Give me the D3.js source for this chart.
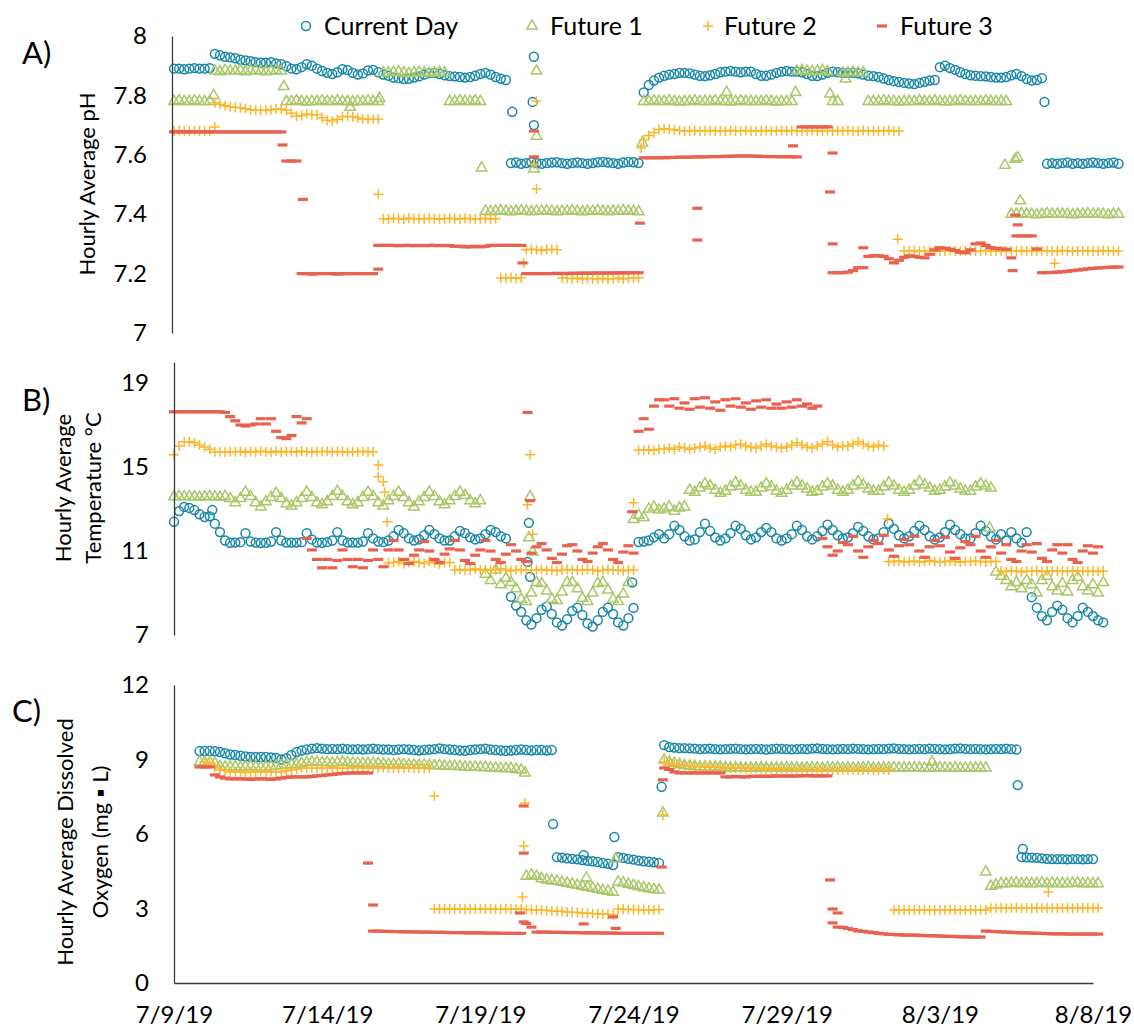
<!DOCTYPE html>
<html>
<head>
<meta charset="utf-8">
<script src="https://cdn.jsdelivr.net/npm/d3@7"></script>
<style>
body { margin: 0; background: #fff; }
text { font-family: Lato, "Open Sans", sans-serif; fill: #000; }
</style>
</head>
<body>
<svg width="1134" height="1028"></svg>
<script>
var _ = null;
// readings every 4 hours starting 7/9/19 00:00, one row per day
var startDay = new Date(2019, 6, 9);
var stepHours = 4;
var dateTicks = ["2019-07-09", "2019-07-14", "2019-07-19", "2019-07-24", "2019-07-29", "2019-08-03", "2019-08-08"];
var seriesNames = ["Current Day", "Future 1", "Future 2", "Future 3"];

// ---- A) pH ----
var phTicks = [7, 7.2, 7.4, 7.6, 7.8, 8];
var phCur = [
7.89,7.89,7.888,7.89,7.892,7.89,
7.89,7.892,7.94,7.935,7.93,7.928,
7.925,7.92,7.918,7.915,7.912,7.91,
7.91,7.912,7.908,7.905,7.898,7.89,
7.888,7.895,7.905,7.9,7.89,7.882,
7.876,7.872,7.878,7.888,7.885,7.876,
7.87,7.874,7.884,7.886,7.878,7.87,
7.866,7.86,7.858,7.855,7.856,7.86,
7.864,7.87,7.875,7.876,7.872,7.868,
7.865,7.864,7.862,7.86,7.862,7.866,
7.872,7.876,7.87,7.862,7.856,7.852,
7.572,7.574,7.57,7.572,7.575,7.572,
7.57,7.572,7.574,7.575,7.572,7.57,
7.572,7.574,7.572,7.57,7.572,7.575,
7.576,7.574,7.572,7.57,7.574,7.576,
7.575,7.572,7.81,7.835,7.85,7.86,
7.866,7.87,7.872,7.876,7.876,7.874,
7.87,7.866,7.865,7.868,7.872,7.878,
7.88,7.882,7.88,7.878,7.88,7.88,
7.872,7.866,7.866,7.87,7.876,7.88,
7.882,7.88,7.88,7.878,7.872,7.866,
7.865,7.87,7.876,7.88,7.878,7.876,
7.876,7.876,7.874,7.87,7.866,7.865,
7.862,7.857,7.852,7.848,7.845,7.842,
7.84,7.838,7.842,7.846,7.85,7.852,
7.895,7.9,7.892,7.886,7.878,7.872,
7.868,7.866,7.865,7.864,7.862,7.86,
7.86,7.862,7.868,7.872,7.865,7.855,
7.85,7.852,7.858,7.57,7.572,7.57,
7.572,7.574,7.57,7.572,7.57,7.572,
7.574,7.572,7.57,7.572,7.574,7.57];
var phF1 = [
7.78,7.782,7.78,7.78,7.782,7.78,
7.78,7.78,7.882,7.88,7.884,7.882,
7.882,7.884,7.88,7.882,7.884,7.882,
7.88,7.882,7.884,7.882,7.78,7.78,
7.782,7.78,7.778,7.78,7.78,7.782,
7.78,7.78,7.782,7.78,7.78,7.778,
7.78,7.78,7.782,7.78,7.78,7.876,
7.876,7.878,7.88,7.876,7.874,7.876,
7.878,7.876,7.874,7.876,7.878,7.876,
7.78,7.78,7.782,7.78,7.78,7.782,
7.78,7.41,7.408,7.41,7.412,7.41,
7.408,7.41,7.412,7.41,7.408,7.41,
7.41,7.412,7.41,7.408,7.41,7.41,
7.412,7.41,7.408,7.41,7.41,7.412,
7.41,7.408,7.41,7.41,7.412,7.41,
7.41,7.408,7.78,7.78,7.782,7.78,
7.78,7.782,7.78,7.778,7.78,7.78,
7.782,7.78,7.78,7.78,7.782,7.78,
7.78,7.778,7.78,7.782,7.78,7.78,
7.78,7.78,7.782,7.78,7.778,7.78,
7.78,7.78,7.882,7.884,7.882,7.88,
7.882,7.884,7.88,7.78,7.78,7.876,
7.876,7.878,7.876,7.876,7.78,7.78,
7.78,7.782,7.78,7.78,7.778,7.78,
7.78,7.78,7.782,7.78,7.78,7.782,
7.78,7.778,7.78,7.78,7.782,7.78,
7.78,7.78,7.78,7.782,7.78,7.78,
7.78,7.78,7.40,7.40,7.402,7.40,
7.40,7.398,7.40,7.402,7.40,7.40,
7.40,7.40,7.398,7.40,7.40,7.402,
7.40,7.40,7.40,7.398,7.40,7.40];
var phF2 = [
7.68,7.682,7.68,7.68,7.682,7.68,
7.68,7.68,7.775,7.77,7.765,7.762,
7.76,7.758,7.755,7.752,7.75,7.75,
7.75,7.752,7.754,7.754,7.75,7.74,
7.73,7.732,7.737,7.735,7.735,7.725,
7.716,7.714,7.72,7.728,7.73,7.728,
7.725,7.72,7.72,7.72,7.72,7.385,
7.384,7.386,7.385,7.383,7.386,7.385,
7.385,7.384,7.386,7.385,7.383,7.385,
7.386,7.385,7.384,7.386,7.385,7.384,
7.385,7.386,7.384,7.385,7.185,7.185,
7.186,7.184,7.185,7.28,7.282,7.28,
7.278,7.28,7.282,7.28,7.185,7.184,
7.183,7.185,7.182,7.184,7.183,7.182,
7.184,7.182,7.183,7.185,7.182,7.184,
7.185,7.186,7.65,7.665,7.675,7.685,
7.688,7.686,7.684,7.682,7.68,7.68,
7.682,7.68,7.68,7.682,7.68,7.68,
7.68,7.682,7.68,7.68,7.682,7.68,
7.68,7.68,7.682,7.68,7.68,7.682,
7.68,7.682,7.68,7.68,7.68,7.682,
7.68,7.68,7.682,7.68,7.682,7.68,
7.682,7.68,7.68,7.682,7.68,7.68,
7.68,7.68,7.682,7.68,7.68,7.276,
7.276,7.278,7.275,7.276,7.277,7.276,
7.275,7.276,7.278,7.276,7.275,7.277,
7.276,7.275,7.276,7.278,7.276,7.275,
7.277,7.276,7.275,7.276,7.278,7.276,
7.276,7.275,7.277,7.276,7.275,7.276,
7.278,7.276,7.275,7.276,7.277,7.276,
7.275,7.276,7.278,7.276,7.275,7.276];
var phF3 = [
7.677,7.677,7.677,7.677,7.677,7.677,
7.677,7.677,7.677,7.677,7.677,7.677,
7.677,7.677,7.677,7.677,7.677,7.677,
7.677,7.677,7.677,7.677,7.579,7.579,
7.579,7.2,7.2,7.198,7.2,7.2,
7.2,7.2,7.198,7.2,7.2,7.2,
7.2,7.2,7.2,7.2,7.295,7.295,
7.295,7.295,7.294,7.295,7.295,7.294,
7.295,7.294,7.295,7.295,7.294,7.295,
7.294,7.292,7.292,7.29,7.29,7.292,
7.29,7.292,7.295,7.295,7.295,7.295,
7.295,7.295,7.295,7.2,7.2,7.2,
7.2,7.2,7.2,7.201,7.2,7.201,
7.201,7.201,7.202,7.201,7.202,7.202,
7.202,7.202,7.202,7.203,7.202,7.203,
7.203,7.203,7.59,7.59,7.59,7.59,
7.59,7.591,7.591,7.592,7.592,7.592,
7.593,7.593,7.593,7.594,7.594,7.594,
7.595,7.595,7.596,7.596,7.596,7.596,
7.595,7.595,7.594,7.594,7.594,7.593,
7.594,7.593,7.593,7.694,7.694,7.694,
7.694,7.694,7.694,7.203,7.203,7.203,
7.205,7.21,7.22,7.22,7.258,7.26,
7.26,7.258,7.25,7.236,7.245,7.255,
7.26,7.258,7.255,7.253,7.265,7.28,
7.287,7.285,7.282,7.278,7.272,7.27,
7.28,7.3,7.303,7.295,7.287,7.285,
7.283,7.282,7.253,7.327,7.327,7.327,
7.327,7.283,7.203,7.203,7.204,7.205,
7.206,7.208,7.21,7.212,7.214,7.216,
7.218,7.219,7.22,7.221,7.222,7.222];
// stray readings: [hour since start, value]
var phCurOut = [[265,7.745],[282,7.93],[281,7.778],[282,7.70],[682,7.778]];
var phF1Out = [[31,7.80],[86,7.83],[138,7.76],[161,7.79],[241,7.556],[284,7.882],[284,7.663],[282,7.552],[367,7.64],[433,7.81],[487,7.81],[514,7.805],[526,7.855],[651,7.565],[659,7.585],[661,7.59],[663,7.445]];
var phF2Out = [[32,7.694],[160,7.467],[274,7.236],[284,7.78],[282,7.569],[284,7.485],[366,7.623],[567,7.316],[690,7.235]];
var phF3Out = [[85,7.633],[101,7.45],[160,7.215],[273,7.236],[282,7.68],[282,7.593],[365,7.37],[410,7.42],[410,7.313],[485,7.63],[516,7.606],[514,7.475],[516,7.30],[540,7.287],[657,7.21],[659,7.397],[661,7.364]];

// ---- B) temperature ----
var tTicks = [7, 11, 15, 19];
var tCur = [
12.39,12.9,13.1,13.05,12.95,12.75,
12.62,12.65,12.3,11.9,11.5,11.39,
11.4,11.42,11.85,11.45,11.4,11.38,
11.39,11.45,11.9,11.5,11.4,11.4,
11.4,11.42,11.85,11.55,11.4,11.39,
11.42,11.5,11.9,11.5,11.4,11.4,
11.4,11.45,11.85,11.6,11.45,11.42,
11.5,11.7,12.0,11.85,11.6,11.5,
11.55,11.75,12.0,11.8,11.6,11.5,
11.5,11.7,11.95,11.85,11.65,11.55,
11.6,11.8,12.0,11.9,11.7,11.6,
8.82,8.4,8.1,7.7,7.5,7.8,
8.2,8.35,8.0,7.6,7.45,7.75,
8.15,8.3,7.95,7.55,7.4,7.7,
8.1,8.3,8.0,7.6,7.45,7.8,
8.29,11.43,11.45,11.5,11.65,11.8,
11.6,11.8,12.2,12.0,11.7,11.5,
11.55,11.9,12.3,11.95,11.65,11.5,
11.6,11.85,12.2,12.05,11.75,11.55,
11.65,11.9,12.1,11.9,11.6,11.5,
11.6,11.8,12.2,12.0,11.7,11.55,
11.7,11.95,12.25,12.0,11.75,11.6,
11.65,11.85,12.15,11.95,11.7,11.55,
11.6,11.9,12.3,12.05,11.75,11.6,
11.7,11.95,12.2,12.0,11.7,11.55,
11.65,11.9,12.25,12.0,11.8,11.6,
11.6,11.85,12.2,11.95,11.7,11.55,
11.8,11.5,11.9,11.6,11.4,11.9,
8.8,8.3,7.9,7.7,8.1,8.4,
8.2,7.8,7.6,7.9,8.3,8.1,
7.9,7.7,7.6,_,_,_];
var tF1 = [
13.58,13.6,13.58,13.6,13.58,13.56,
13.58,13.6,13.58,13.56,13.6,13.5,
13.3,13.5,13.8,13.6,13.3,13.1,
13.35,13.55,13.75,13.5,13.25,13.15,
13.3,13.5,13.8,13.55,13.3,13.2,
13.35,13.6,13.85,13.6,13.35,13.2,
13.3,13.55,13.8,13.6,13.3,13.15,
13.4,13.6,13.8,13.55,13.3,13.1,
13.35,13.55,13.8,13.6,13.35,13.2,
13.4,13.6,13.8,13.65,13.4,13.25,
13.4,9.9,9.6,10.1,9.4,9.7,
9.5,9.2,8.7,8.6,9.0,9.5,
9.45,9.1,8.7,8.65,9.05,9.5,
9.5,9.2,8.75,8.6,9.0,9.45,
9.5,9.15,8.7,8.6,8.95,9.5,
12.5,12.7,12.6,13.0,13.1,12.95,
13.0,13.1,12.9,13.05,13.1,13.9,
13.8,14.0,14.2,14.1,13.9,13.75,
13.85,14.05,14.25,14.1,13.9,13.8,
13.8,14.0,14.2,14.05,13.85,13.75,
13.9,14.1,14.25,14.1,13.95,13.8,
13.85,14.05,14.2,14.1,13.9,13.8,
13.9,14.1,14.3,14.15,13.95,13.85,
13.85,14.05,14.25,14.1,13.9,13.8,
13.9,14.1,14.3,14.15,14.0,13.85,
13.9,14.05,14.25,14.1,13.95,13.85,
13.85,14.05,14.2,14.1,14.0,10.0,
9.8,9.6,9.3,9.5,9.2,9.6,
9.4,9.0,9.6,9.8,9.3,9.1,
9.45,9.05,9.6,9.75,9.3,9.1,
9.4,9.0,9.5,_,_,_];
var tF2 = [
15.58,16.0,16.2,16.2,16.15,16.05,
15.95,15.85,15.72,15.73,15.72,15.73,
15.73,15.75,15.7,15.74,15.72,15.76,
15.73,15.7,15.75,15.72,15.74,15.73,
15.72,15.76,15.73,15.7,15.74,15.73,
15.75,15.72,15.73,15.74,15.7,15.73,
15.73,15.75,15.72,15.73,15.1,14.3,
10.43,10.45,10.5,10.4,10.45,10.5,
10.45,10.4,10.5,10.45,10.38,10.45,
10.45,10.1,10.12,10.08,10.1,10.15,
10.1,10.12,10.08,10.1,10.15,10.1,
10.05,10.1,10.12,10.08,10.1,10.1,
10.12,10.08,10.1,10.05,10.1,10.12,
10.1,10.1,10.08,10.12,10.1,10.05,
10.08,10.12,10.1,10.1,10.06,10.1,
10.1,15.8,15.8,15.82,15.8,15.85,
15.85,15.9,15.85,15.95,15.9,15.85,
15.9,15.95,16.0,15.9,15.85,15.95,
16.0,15.95,16.05,16.1,16.0,15.95,
15.9,16.0,16.1,16.0,15.95,15.9,
15.95,16.05,16.15,16.05,15.95,15.9,
16.0,16.1,16.2,16.05,15.95,16.0,
16.0,16.1,16.2,16.1,16.0,15.95,
16.05,16.0,10.5,10.5,10.52,10.48,
10.5,10.52,10.48,10.5,10.55,10.5,
10.48,10.5,10.52,10.5,10.46,10.5,
10.5,10.52,10.5,10.48,10.5,10.5,
10.05,10.02,10.06,10.05,10.0,10.05,
10.04,10.06,10.02,10.05,10.05,10.03,
10.05,10.02,10.06,10.04,10.05,10.02,
10.05,10.02,10.05,_,_,_];
var tF3 = [
17.63,17.63,17.63,17.63,17.63,17.63,
17.63,17.63,17.63,17.63,17.6,17.4,
17.2,17.0,16.95,17.0,17.05,17.3,
17.05,17.3,16.7,16.4,16.35,16.5,
17.4,17.1,11.6,11.05,10.6,10.2,
10.6,10.2,10.55,11.05,10.6,10.25,
10.6,10.2,10.55,11.05,10.6,10.25,
11.05,11.5,11.05,10.6,10.4,10.8,
11.05,11.45,11.0,10.6,10.45,10.85,
11.1,11.5,11.05,10.55,10.4,10.8,
11.05,11.5,11.0,10.6,10.45,10.85,
11.3,11.0,10.6,10.5,10.9,11.2,
11.35,11.05,10.65,10.45,10.85,11.25,
11.3,11.0,10.6,10.5,10.9,11.2,
11.35,11.05,10.6,10.45,10.95,11.25,
10.9,16.7,17.3,16.8,17.9,18.2,
18.2,17.9,18.25,17.8,18.05,17.75,
18.25,17.85,18.3,17.8,18.1,17.7,
18.2,17.9,18.25,17.85,18.05,17.75,
18.15,17.85,18.2,17.8,18.0,17.8,
18.1,17.85,18.2,17.9,18.0,17.8,
17.9,11.6,11.2,10.8,11.0,11.4,
11.3,11.7,11.0,10.7,11.2,11.5,
11.35,11.75,11.05,10.75,11.25,11.55,
11.3,11.7,11.0,10.7,11.2,11.5,
11.25,11.65,10.95,10.65,11.15,11.45,
11.3,11.7,11.0,10.7,11.2,11.5,
10.9,11.3,10.6,10.5,11.0,11.3,
10.95,11.35,10.65,10.5,11.05,11.3,
10.9,11.3,10.6,10.45,11.0,11.25,
10.9,11.2,_,_,_,_];
var tCurOut = [[30,12.95],[278,12.34],[277,10.48],[279,9.77],[359,9.5]];
var tF1Out = [[279,13.58],[278,11.63],[281,10.96],[639,12.1]];
var tF2Out = [[160,14.55],[165,13.8],[167,12.39],[279,15.58],[277,13.2],[281,11.8],[360,13.3],[559,12.53]];
var tF3Out = [[277,17.6],[279,13.4],[359,12.87],[104,17.3]];

// ---- C) dissolved oxygen ----
var doTicks = [0, 3, 6, 9, 12];
var doCur = [
_,_,_,_,_,9.34,
9.34,9.34,9.33,9.3,9.25,9.2,
9.18,9.15,9.12,9.1,9.1,9.1,
9.1,9.08,9.06,9.0,9.05,9.18,
9.3,9.36,9.4,9.44,9.46,9.44,
9.42,9.43,9.42,9.44,9.42,9.41,
9.42,9.4,9.42,9.44,9.42,9.4,
9.4,9.38,9.4,9.42,9.4,9.38,
9.36,9.38,9.4,9.42,9.45,9.42,
9.4,9.38,9.36,9.35,9.38,9.4,
9.42,9.44,9.4,9.38,9.36,9.35,
9.36,9.38,9.4,9.38,9.36,9.38,
9.38,9.36,9.38,5.07,5.05,5.02,
5.0,4.98,4.95,4.92,4.9,4.87,
4.83,4.8,4.75,5.07,5.04,5.0,
4.97,4.93,4.9,4.88,4.86,4.83,
9.58,9.5,9.48,9.46,9.46,9.45,
9.44,9.42,9.43,9.44,9.42,9.41,
9.42,9.43,9.44,9.42,9.41,9.42,
9.43,9.42,9.4,9.42,9.44,9.43,
9.42,9.41,9.42,9.43,9.42,9.44,
9.45,9.43,9.42,9.41,9.42,9.43,
9.42,9.44,9.43,9.42,9.41,9.42,
9.43,9.42,9.44,9.45,9.43,9.42,
9.41,9.42,9.43,9.42,9.44,9.43,
9.42,9.41,9.42,9.44,9.45,9.43,
9.42,9.43,9.42,9.41,9.42,9.43,
9.42,9.44,9.42,9.4,5.07,5.06,
5.05,5.04,5.02,5.0,4.99,4.99,
4.99,4.98,4.99,4.99,4.98,4.99,
4.99,_,_,_,_,_];
var doF1 = [
_,_,_,_,_,8.9,
8.9,8.9,8.85,8.72,8.7,8.7,
8.7,8.68,8.7,8.72,8.7,8.68,
8.7,8.72,8.74,8.76,8.78,8.8,
8.8,8.85,8.88,8.9,8.9,8.88,
8.88,8.86,8.88,8.9,8.88,8.86,
8.86,8.85,8.84,8.85,8.84,8.82,
8.8,8.8,8.82,8.8,8.78,8.78,
8.77,8.78,8.76,8.75,8.76,8.74,
8.73,8.72,8.72,8.7,8.7,8.69,
8.68,8.68,8.66,8.66,8.64,8.64,
8.64,8.6,8.58,4.3,4.35,4.3,
4.2,4.15,4.12,4.1,4.06,4.02,
3.98,3.94,3.9,3.86,3.82,3.78,
3.74,3.7,3.66,4.07,4.03,3.98,
3.93,3.88,3.84,3.8,3.77,3.75,
8.98,8.9,8.85,8.8,8.76,8.74,
8.72,8.7,8.7,8.7,8.7,8.7,
8.68,8.66,8.67,8.66,8.65,8.66,
8.66,8.67,8.66,8.65,8.66,8.66,
8.67,8.66,8.66,8.65,8.66,8.67,
8.66,8.65,8.66,8.66,8.67,8.66,
8.66,8.66,8.65,8.66,8.67,8.66,
8.65,8.66,8.66,8.67,8.66,8.66,
8.66,8.67,8.66,8.65,8.66,8.66,
8.67,8.66,8.66,8.66,8.65,8.66,
8.66,8.66,8.66,8.66,3.9,3.95,
4.0,4.0,4.02,4.03,4.0,4.02,
4.0,4.01,4.03,4.0,4.02,4.0,
4.01,4.0,4.02,4.03,4.0,4.01,
4.0,4.0,_,_,_,_];
var doF2 = [
_,_,_,_,_,_,
8.9,8.85,8.7,8.6,8.55,8.5,
8.5,8.5,8.48,8.5,8.5,8.5,
8.5,8.52,8.5,8.5,8.55,8.58,
8.62,8.65,8.66,8.66,8.66,8.66,
8.66,8.67,8.66,8.65,8.66,8.66,
8.67,8.66,8.66,8.65,8.66,8.67,
8.66,8.66,8.65,8.66,8.67,8.66,
8.66,8.66,8.66,2.98,2.98,2.98,
2.98,2.99,2.98,2.97,2.98,2.98,
2.99,2.98,2.98,2.97,2.98,2.98,
2.98,2.98,2.98,2.96,2.95,2.94,
2.93,2.92,2.9,2.89,2.88,2.86,
2.85,2.84,2.82,2.81,2.8,2.79,
2.78,2.77,2.75,2.98,2.97,2.96,
2.96,2.95,2.95,2.94,2.95,2.96,
8.9,8.85,8.8,8.78,8.76,8.74,
8.72,8.72,8.7,8.7,8.7,8.68,
8.66,8.66,8.65,8.65,8.64,8.64,
8.63,8.63,8.62,8.62,8.62,8.61,
8.61,8.6,8.6,8.6,8.6,8.59,
8.59,8.59,8.58,8.58,8.58,8.58,
8.58,8.58,8.58,8.58,8.58,8.58,
8.58,8.58,8.58,2.94,2.94,2.94,
2.94,2.93,2.94,2.95,2.94,2.93,
2.94,2.94,2.95,2.94,2.93,2.94,
2.94,2.94,2.94,2.94,3.02,3.02,
3.02,3.01,3.02,3.03,3.02,3.02,
3.01,3.02,3.03,3.02,3.02,3.01,
3.02,3.02,3.01,3.02,3.03,3.02,
3.02,3.02,_,_,_,_];
var doF3 = [
_,_,_,_,_,8.7,
8.7,8.7,8.38,8.3,8.25,8.22,
8.22,8.22,8.22,8.2,8.22,8.22,
8.22,8.2,8.22,8.25,8.28,8.3,
8.3,8.3,8.3,8.32,8.34,8.36,
8.38,8.4,8.42,8.44,8.45,8.46,
8.46,8.46,8.46,2.09,2.09,2.08,
2.08,2.07,2.07,2.06,2.06,2.06,
2.05,2.05,2.05,2.04,2.04,2.04,
2.03,2.03,2.03,2.02,2.02,2.02,
2.02,2.01,2.01,2.01,2.0,2.0,
2.0,2.0,2.0,2.4,2.25,2.05,
2.05,2.05,2.04,2.04,2.04,2.03,
2.03,2.03,2.02,2.02,2.02,2.02,
2.01,2.01,2.01,2.0,2.0,2.0,
2.0,2.0,2.0,2.0,2.0,2.0,
8.66,8.6,8.5,8.46,8.46,8.46,
8.46,8.46,8.46,8.46,8.46,8.46,
8.3,8.3,8.32,8.3,8.3,8.32,
8.32,8.33,8.32,8.33,8.34,8.33,
8.34,8.33,8.34,8.34,8.35,8.34,
8.34,8.34,8.34,_,2.25,2.24,
2.2,2.15,2.1,2.08,2.05,2.03,
2.0,1.98,1.96,1.95,1.94,1.93,
1.93,1.93,1.92,1.91,1.9,1.9,
1.89,1.88,1.88,1.87,1.86,1.86,
1.85,1.85,1.85,2.09,2.08,2.07,
2.06,2.05,2.04,2.03,2.02,2.02,
2.01,2.0,2.0,1.99,1.98,1.98,
1.98,1.97,1.97,1.97,1.97,1.97,
1.97,1.97,_,_,_,_];
var doCurOut = [[297,6.4],[321,5.15],[345,5.88],[382,7.9],[661,7.97],[665,5.4]];
var doF1Out = [[275,8.46],[323,4.23],[346,4.99],[383,6.85],[594,8.9],[636,4.47]];
var doF2Out = [[204,7.53],[275,7.25],[274,5.52],[273,3.46],[383,6.77],[685,3.66]];
var doF3Out = [[152,4.83],[156,3.14],[274,7.13],[274,5.23],[271,2.82],[274,2.46],[321,2.38],[344,2.66],[346,2.2],[382,4.67],[383,8.18],[514,4.15],[516,2.98],[520,2.82],[516,2.42]];

// marker styles
var styles = [
  { kind: "circle",   color: "#1687a7" },
  { kind: "triangle", color: "#a9c868" },
  { kind: "plus",     color: "#fbb72c" },
  { kind: "dash",     color: "#e9614f" }
];

var svg = d3.select("svg");
var x = d3.scaleTime()
    .domain([new Date(2019, 6, 9), new Date(2019, 7, 8)])
    .range([174, 1093]);

function hourDate(h) { return new Date(startDay.getTime() + h * 3600e3); }

function gridPoints(arr) {
  return arr.map(function(v, i) { return [i * stepHours, v]; })
            .filter(function(d) { return d[1] !== null; });
}

function markerPath(kind) {
  if (kind === "circle") return d3.symbol(d3.symbolCircle, 62)();
  if (kind === "triangle") return d3.symbol(d3.symbolTriangle, 48)();
  if (kind === "plus") return "M-5,0H5M0,-5V5";
  return "M-5,-1.6h10v3.2h-10z";
}

function styleMarker(sel, st) {
  sel.attr("d", markerPath(st.kind));
  if (st.kind === "dash") {
    sel.attr("fill", st.color).attr("stroke", "none");
  } else {
    sel.attr("fill", "none").attr("stroke", st.color).attr("stroke-width", 1.5);
  }
}

var panels = [
  { letter: "A)", letterY: 64, axisX: 172, range: [333, 36], domain: [7, 8], ticks: phTicks,
    title: ["Hourly Average pH"], titleX: [87], titleY: 184,
    series: [[phCur, phCurOut], [phF1, phF1Out], [phF2, phF2Out], [phF3, phF3Out]] },
  { letter: "B)", letterY: 411, axisX: 174, range: [635, 362], domain: [7, 20], ticks: tTicks,
    title: ["Hourly Average", "Temperature \u00B0C"], titleX: [63, 93], titleY: 488,
    series: [[tCur, tCurOut], [tF1, tF1Out], [tF2, tF2Out], [tF3, tF3Out]] },
  { letter: "C)", letterY: 722, axisX: 174, range: [983, 685], domain: [0, 12], ticks: doTicks,
    title: ["Hourly Average Dissolved", "Oxygen (mg \u25AA L)"], titleX: [65, 100], titleY: 842,
    series: [[doCur, doCurOut], [doF1, doF1Out], [doF2, doF2Out], [doF3, doF3Out]] }
];

panels.forEach(function(p, pi) {
  var y = d3.scaleLinear().domain(p.domain).range(p.range);
  var g = svg.append("g");

  // markers, drawn series by series so later series sit on top
  p.series.forEach(function(s, si) {
    var pts = gridPoints(s[0]).concat(s[1]);
    g.append("g").selectAll("path")
      .data(pts)
      .enter().append("path")
      .attr("transform", function(d) { return "translate(" + x(hourDate(d[0])) + "," + y(d[1]) + ")"; })
      .call(styleMarker, styles[si]);
  });

  var ax = g.append("g")
    .attr("transform", "translate(" + p.axisX + ",0)")
    .call(d3.axisLeft(y).tickValues(p.ticks).tickSize(0).tickPadding(25).tickFormat(d3.format("~g")));
  ax.attr("font-size", 24).attr("font-family", "Lato, 'Open Sans', sans-serif");
  ax.select(".domain").attr("stroke", "#3c3c3c").attr("stroke-width", 1.3);

  g.append("text")
    .attr("x", pi === 2 ? 12 : 22)
    .attr("y", p.letterY)
    .attr("font-size", 31)
    .text(p.letter);

  p.title.forEach(function(t, ti) {
    g.append("text")
      .attr("transform", "translate(" + p.titleX[ti] + "," + p.titleY + ") rotate(-90)")
      .attr("text-anchor", "middle")
      .attr("dy", "0.35em")
      .attr("font-size", 22)
      .text(t);
  });

  if (pi === 2) {
    var xa = g.append("g")
      .attr("transform", "translate(0," + p.range[0] + ")")
      .call(d3.axisBottom(x)
        .tickValues(dateTicks.map(function(s) { return d3.timeParse("%Y-%m-%d")(s); }))
        .tickSize(0).tickPadding(23)
        .tickFormat(d3.timeFormat("%-m/%-d/%y")));
    xa.attr("font-size", 24).attr("font-family", "Lato, 'Open Sans', sans-serif");
    xa.select(".domain").attr("stroke", "#3c3c3c").attr("stroke-width", 1.3);
  }
});

// legend
var legendX = [306, 532, 708, 882];
var legendTextX = [324, 550, 724, 900];
var legend = svg.append("g");
seriesNames.forEach(function(n, i) {
  legend.append("path")
    .attr("transform", "translate(" + legendX[i] + ",26)")
    .call(styleMarker, styles[i]);
  legend.append("text")
    .attr("x", legendTextX[i])
    .attr("y", 35)
    .attr("font-size", 25)
    .text(n);
});
</script>
</body>
</html>
